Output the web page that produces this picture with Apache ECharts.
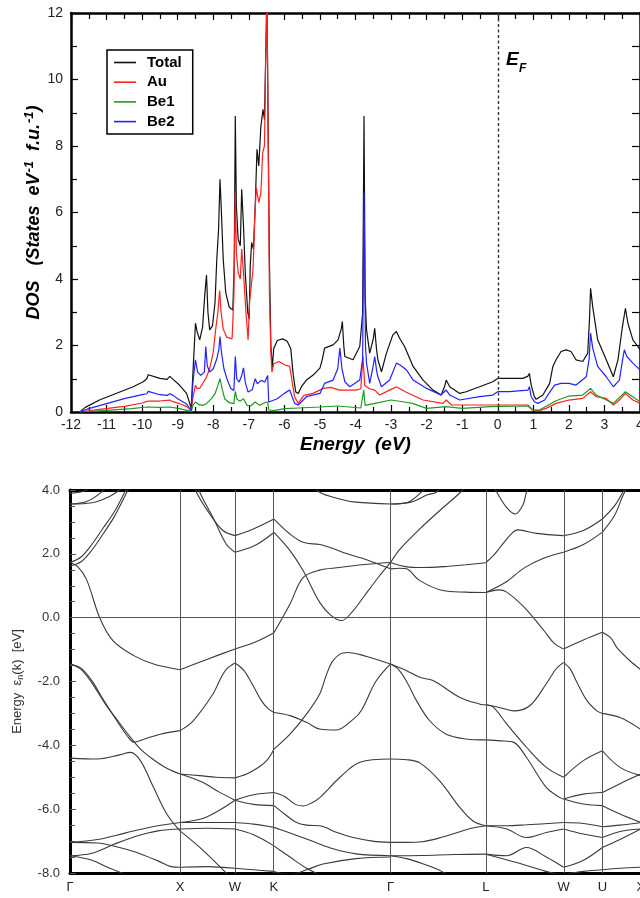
<!DOCTYPE html>
<html><head><meta charset="utf-8">
<script src="https://cdn.jsdelivr.net/npm/echarts@6/dist/echarts.min.js"></script>
<style>html,body{margin:0;padding:0;background:#fff}#c{width:640px;height:898px}</style>
</head><body><div id="c"></div>
<script>
// ---------- DOS data [energy eV, states/eV/f.u.] ----------
const dosTotal = [[-11.75,0],[-11.6,0.14],[-11.2,0.36],[-10.7,0.57],[-10.25,0.76],[-9.97,0.91],[-9.87,1.0],[-9.83,1.12],[-9.78,1.06],[-9.5,1.01],[-9.3,0.98],[-9.22,1.07],[-9.13,0.98],[-8.95,0.81],[-8.75,0.56],[-8.62,0.12],[-8.57,1.2],[-8.5,2.67],[-8.45,2.4],[-8.38,2.17],[-8.3,2.55],[-8.24,3.5],[-8.19,4.12],[-8.15,3.0],[-8.1,2.47],[-8.02,2.6],[-7.95,3.3],[-7.9,4.6],[-7.85,5.5],[-7.81,7.0],[-7.77,6.0],[-7.72,4.6],[-7.65,3.6],[-7.55,3.15],[-7.45,3.07],[-7.41,4.5],[-7.38,8.9],[-7.35,6.2],[-7.3,5.2],[-7.24,5.0],[-7.2,6.7],[-7.15,5.6],[-7.1,4.2],[-7.03,3.0],[-6.99,2.8],[-6.96,4.4],[-6.92,5.1],[-6.87,4.9],[-6.82,6.2],[-6.77,7.9],[-6.72,7.4],[-6.66,8.6],[-6.6,9.1],[-6.56,8.8],[-6.52,11.0],[-6.49,12.5],[-6.44,12.5],[-6.42,4.5],[-6.38,2.0],[-6.34,1.35],[-6.3,1.9],[-6.2,2.15],[-6.05,2.2],[-5.92,2.13],[-5.82,1.9],[-5.75,1.1],[-5.68,0.6],[-5.61,0.56],[-5.52,0.76],[-5.38,0.96],[-5.19,1.11],[-5.0,1.32],[-4.93,1.6],[-4.87,1.92],[-4.63,2.02],[-4.49,2.17],[-4.4,2.5],[-4.37,2.72],[-4.33,2.0],[-4.3,1.67],[-4.07,1.57],[-3.88,1.97],[-3.8,2.97],[-3.76,8.9],[-3.73,3.5],[-3.69,2.47],[-3.6,1.77],[-3.5,2.2],[-3.46,2.52],[-3.41,1.9],[-3.37,1.57],[-3.27,1.21],[-3.13,1.77],[-2.95,2.32],[-2.85,2.42],[-2.76,2.22],[-2.62,1.97],[-2.38,1.37],[-2.1,0.96],[-1.82,0.66],[-1.59,0.51],[-1.5,0.75],[-1.45,0.96],[-1.35,0.76],[-1.07,0.56],[-0.89,0.61],[-0.51,0.76],[-0.14,0.91],[0.0,1.01],[0.33,1.01],[0.71,1.01],[0.85,1.08],[0.89,1.16],[0.94,0.81],[1.03,0.46],[1.08,0.38],[1.27,0.51],[1.46,0.86],[1.55,1.37],[1.64,1.57],[1.78,1.82],[1.92,1.87],[2.06,1.82],[2.2,1.57],[2.39,1.52],[2.53,1.77],[2.58,2.8],[2.61,3.72],[2.67,3.17],[2.81,2.17],[3.05,1.57],[3.25,1.06],[3.38,1.57],[3.5,2.52],[3.59,3.12],[3.66,2.67],[3.8,2.17],[3.94,1.97],[4.0,1.87]];
const dosAu = [[-11.75,0],[-11.2,0.08],[-10.5,0.17],[-10.0,0.27],[-9.87,0.32],[-9.83,0.38],[-9.78,0.33],[-9.5,0.33],[-9.22,0.36],[-9.13,0.31],[-8.95,0.25],[-8.75,0.17],[-8.62,0.04],[-8.57,0.45],[-8.5,0.8],[-8.45,0.7],[-8.38,0.72],[-8.3,0.85],[-8.19,1.05],[-8.1,1.3],[-8.0,1.8],[-7.93,2.5],[-7.87,3.0],[-7.82,3.65],[-7.78,3.0],[-7.72,2.5],[-7.62,2.25],[-7.47,2.2],[-7.42,3.5],[-7.38,6.6],[-7.35,4.8],[-7.3,4.2],[-7.24,4.0],[-7.2,4.9],[-7.15,4.2],[-7.08,3.0],[-7.02,2.17],[-6.98,3.3],[-6.93,3.8],[-6.88,4.3],[-6.83,5.9],[-6.79,6.75],[-6.72,6.3],[-6.66,6.6],[-6.61,7.8],[-6.56,8.0],[-6.52,11.0],[-6.49,12.5],[-6.44,12.5],[-6.42,3.5],[-6.38,1.8],[-6.35,1.2],[-6.3,1.45],[-6.15,1.52],[-6.0,1.42],[-5.85,1.37],[-5.78,0.9],[-5.71,0.45],[-5.61,0.26],[-5.45,0.5],[-5.2,0.56],[-4.9,0.71],[-4.7,0.74],[-4.45,0.66],[-4.0,0.66],[-3.85,0.7],[-3.79,1.67],[-3.74,0.8],[-3.6,0.7],[-3.46,0.66],[-3.32,0.51],[-3.0,0.68],[-2.85,0.76],[-2.6,0.61],[-2.1,0.36],[-1.54,0.26],[-1.45,0.36],[-1.3,0.21],[-0.5,0.21],[0.0,0.21],[0.85,0.21],[0.89,0.26],[0.98,0.06],[1.17,0.04],[1.36,0.11],[1.64,0.26],[2.0,0.36],[2.39,0.41],[2.61,0.61],[2.77,0.46],[3.05,0.41],[3.25,0.21],[3.42,0.36],[3.59,0.56],[3.8,0.36],[4.0,0.26]];
const dosBe1 = [[-11.75,0],[-11.0,0.05],[-10.3,0.1],[-9.87,0.15],[-9.83,0.18],[-9.5,0.14],[-9.22,0.15],[-8.95,0.1],[-8.62,0.02],[-8.57,0.2],[-8.5,0.3],[-8.4,0.22],[-8.3,0.2],[-8.19,0.25],[-8.05,0.4],[-7.95,0.55],[-7.87,0.8],[-7.81,1.0],[-7.76,0.75],[-7.68,0.4],[-7.55,0.28],[-7.42,0.25],[-7.38,0.62],[-7.33,0.38],[-7.25,0.32],[-7.15,0.4],[-7.05,0.2],[-6.95,0.18],[-6.82,0.3],[-6.7,0.2],[-6.55,0.28],[-6.47,0.3],[-6.44,0.06],[-6.3,0.04],[-6.0,0.1],[-5.6,0.12],[-5.0,0.15],[-4.5,0.18],[-3.85,0.12],[-3.77,0.66],[-3.73,0.2],[-3.46,0.26],[-3.0,0.36],[-2.62,0.3],[-2.4,0.26],[-2.0,0.11],[-1.45,0.16],[-1.0,0.11],[-0.2,0.16],[0.85,0.18],[0.98,0.06],[1.17,0.06],[1.64,0.34],[2.0,0.48],[2.39,0.51],[2.61,0.71],[2.77,0.51],[3.25,0.26],[3.59,0.61],[4.0,0.31]];
const dosBe2 = [[-11.75,0],[-11.5,0.1],[-11.0,0.25],[-10.5,0.4],[-10.0,0.52],[-9.87,0.55],[-9.83,0.62],[-9.78,0.56],[-9.5,0.52],[-9.3,0.5],[-9.22,0.55],[-9.13,0.5],[-9.0,0.4],[-8.75,0.24],[-8.62,0.04],[-8.57,0.9],[-8.5,1.57],[-8.44,1.2],[-8.35,1.1],[-8.25,1.2],[-8.21,1.97],[-8.17,1.4],[-8.1,1.2],[-8.0,1.3],[-7.9,1.6],[-7.84,1.9],[-7.81,2.27],[-7.77,1.8],[-7.7,1.3],[-7.6,0.95],[-7.5,0.7],[-7.42,0.65],[-7.38,1.67],[-7.34,1.0],[-7.27,0.9],[-7.2,1.1],[-7.15,1.33],[-7.1,0.9],[-7.02,0.6],[-6.9,0.68],[-6.82,1.0],[-6.76,0.85],[-6.65,0.95],[-6.55,0.9],[-6.47,1.1],[-6.44,0.3],[-6.4,0.26],[-6.2,0.4],[-6.0,0.56],[-5.85,0.66],[-5.78,0.45],[-5.71,0.26],[-5.61,0.21],[-5.38,0.46],[-5.0,0.56],[-4.87,0.86],[-4.63,0.96],[-4.5,1.3],[-4.44,1.92],[-4.38,1.3],[-4.3,0.91],[-4.16,0.76],[-3.88,0.96],[-3.8,1.6],[-3.76,6.6],[-3.72,2.0],[-3.69,1.47],[-3.6,0.86],[-3.5,1.4],[-3.46,1.67],[-3.4,1.2],[-3.37,1.06],[-3.27,0.76],[-3.04,0.96],[-2.85,1.47],[-2.76,1.42],[-2.57,1.27],[-2.38,0.96],[-2.0,0.71],[-1.6,0.51],[-1.45,0.66],[-1.35,0.51],[-1.07,0.36],[-0.51,0.46],[-0.14,0.51],[0.0,0.61],[0.33,0.61],[0.85,0.66],[0.89,0.76],[0.94,0.46],[1.03,0.31],[1.13,0.26],[1.32,0.36],[1.5,0.66],[1.6,0.81],[1.64,0.76],[1.78,0.86],[2.0,0.86],[2.2,0.81],[2.49,1.06],[2.57,1.6],[2.61,2.37],[2.67,1.92],[2.81,1.37],[3.05,1.06],[3.25,0.76],[3.42,0.96],[3.5,1.5],[3.56,1.87],[3.63,1.67],[3.8,1.47],[4.0,1.27]];
const dosNames = ['Total','Au','Be1','Be2'];
const dosColors = ['#111111','#ff2020','#1f9a1f','#2222ff'];
const fermiLevel = 0;

// ---------- band structure [k (2pi/a), energy eV] ----------
const kPoints = [0, 1, 1.5, 1.854, 2.914, 3.78, 4.487, 4.84, 5.19];
const kLabels = ['Γ','X','W','K','Γ','L','W','U','X'];

const bandsGX = [
 [[0,3.56],[0.2,3.6],[0.35,3.78],[0.45,4.0],[0.55,4.3]],
 [[0,3.56],[0.15,3.64],[0.28,3.92],[0.38,4.3]],
 [[0,3.9],[0.12,3.96],[0.25,4.2]],
 [[0,1.73],[0.1,1.9],[0.2,2.3],[0.3,2.8],[0.4,3.3],[0.5,3.95],[0.58,4.5]],
 [[0,1.62],[0.1,1.75],[0.2,2.12],[0.3,2.62],[0.4,3.15],[0.52,3.95],[0.6,4.5]],
 [[0,1.73],[0.07,1.6],[0.15,1.2],[0.27,0.0],[0.39,-0.72],[0.58,-1.19],[0.76,-1.45],[1.0,-1.63]],
 [[0,-1.45],[0.1,-1.62],[0.2,-2.05],[0.32,-2.7],[0.45,-3.3],[0.55,-3.75],[0.65,-4.15],[0.76,-4.45],[0.88,-4.72],[1.0,-4.9]],
 [[0,-1.45],[0.1,-1.58],[0.2,-1.98],[0.3,-2.55],[0.42,-3.2],[0.52,-3.7],[0.58,-3.9],[0.68,-3.8],[0.82,-3.65],[1.0,-3.54]],
 [[0,-4.4],[0.25,-4.43],[0.45,-4.3],[0.55,-4.22],[0.64,-4.48],[0.76,-5.32],[0.88,-6.15],[1.0,-6.68]],
 [[0,-7.04],[0.25,-6.95],[0.5,-6.75],[0.75,-6.55],[1.0,-6.42]],
 [[0,-7.46],[0.2,-7.38],[0.4,-7.1],[0.6,-6.85],[0.8,-6.68],[1.0,-6.62]],
 [[0,-7.04],[0.25,-7.06],[0.45,-7.2],[0.6,-7.35],[0.8,-7.62],[0.92,-7.8],[1.0,-7.82]],
 [[0,-7.46],[0.2,-7.6],[0.34,-7.82],[0.55,-8.1]]
];
const bandsXW = [
 [[1.1,4.5],[1.15,3.93],[1.27,3.25],[1.39,2.73],[1.5,2.57]],
 [[1.13,4.5],[1.18,3.93],[1.3,3.14],[1.42,2.31],[1.5,2.05]],
 [[1.0,-1.63],[1.25,-1.3],[1.5,-0.98]],
 [[1.0,-3.54],[1.12,-3.23],[1.3,-2.39],[1.36,-1.97],[1.42,-1.62],[1.5,-1.42]],
 [[1.0,-4.9],[1.18,-4.95],[1.33,-5.0],[1.5,-5.02]],
 [[1.0,-4.9],[1.2,-5.15],[1.35,-5.45],[1.5,-5.72]],
 [[1.0,-6.42],[1.2,-6.3],[1.35,-6.05],[1.5,-5.72]],
 [[1.0,-6.42],[1.25,-6.42],[1.5,-6.42]],
 [[1.0,-6.62],[1.25,-6.6],[1.5,-6.62]],
 [[1.0,-6.68],[1.18,-7.2],[1.42,-8.0],[1.5,-8.3]],
 [[1.0,-7.82],[1.25,-7.8],[1.5,-7.85]]
];
const bandsWK = [
 [[1.5,2.57],[1.667,2.78],[1.854,3.09]],
 [[1.5,2.05],[1.68,2.26],[1.854,2.67]],
 [[1.5,-0.98],[1.68,-0.77],[1.854,-0.47]],
 [[1.5,-1.42],[1.58,-1.65],[1.66,-2.1],[1.74,-2.6],[1.8,-2.85],[1.854,-2.97]],
 [[1.5,-5.02],[1.606,-4.9],[1.7,-4.72],[1.788,-4.48],[1.854,-4.12]],
 [[1.5,-5.72],[1.67,-5.85],[1.854,-5.89]],
 [[1.5,-5.72],[1.67,-5.55],[1.854,-5.48]],
 [[1.5,-6.42],[1.67,-6.47],[1.854,-6.57]],
 [[1.5,-6.62],[1.67,-6.8],[1.854,-7.15]],
 [[1.5,-7.85],[1.67,-7.9],[1.854,-7.95]]
];
const bandsKG = [
 [[2.2,4.2],[2.27,3.93],[2.45,3.72],[2.6,3.62],[2.914,3.56]],
 [[1.854,3.09],[2.0,2.62],[2.12,2.36],[2.27,2.29],[2.38,2.18],[2.52,2.0],[2.65,1.87],[2.8,1.68],[2.914,1.53]],
 [[1.854,2.67],[2.0,2.1],[2.12,1.47],[2.27,0.48],[2.37,0.08],[2.47,-0.09],[2.57,0.2],[2.667,0.64],[2.8,1.25],[2.914,1.73]],
 [[1.854,-0.47],[2.0,0.43],[2.12,1.26],[2.27,1.49],[2.45,1.57],[2.65,1.66],[2.914,1.73]],
 [[1.854,-4.12],[2.0,-3.65],[2.15,-3.02],[2.27,-2.39],[2.33,-1.8],[2.38,-1.4],[2.45,-1.15],[2.52,-1.09],[2.63,-1.15],[2.73,-1.25],[2.914,-1.45]],
 [[1.854,-2.97],[2.0,-3.07],[2.15,-3.28],[2.27,-3.49],[2.42,-3.52],[2.576,-3.18],[2.65,-2.9],[2.78,-2.0],[2.914,-1.45]],
 [[1.854,-5.48],[1.95,-5.6],[2.05,-5.85],[2.12,-5.9],[2.2,-5.8],[2.273,-5.63],[2.455,-5.0],[2.636,-4.53],[2.914,-4.43]],
 [[1.854,-5.89],[1.95,-6.15],[2.05,-6.4],[2.15,-6.5],[2.273,-6.52],[2.42,-6.72],[2.576,-6.89],[2.75,-7.0],[2.914,-7.04]],
 [[1.854,-6.57],[2.0,-6.75],[2.2,-7.0],[2.4,-7.25],[2.6,-7.4],[2.914,-7.46]],
 [[1.854,-7.15],[2.0,-7.5],[2.15,-7.85],[2.3,-8.1]],
 [[1.854,-7.95],[2.0,-8.05],[2.15,-7.9],[2.3,-7.72],[2.6,-7.55],[2.914,-7.5]]
];
const bandsGL = [
 [[2.914,3.56],[3.1,3.62],[3.25,3.85],[3.33,3.93],[3.42,4.3]],
 [[2.914,3.56],[3.06,3.6],[3.2,3.95],[3.3,4.3]],
 [[2.914,1.73],[3.0,2.15],[3.18,2.78],[3.36,3.35],[3.55,3.93],[3.65,4.3]],
 [[2.914,1.73],[3.05,1.6],[3.2,1.57],[3.4,1.6],[3.6,1.66],[3.78,1.72]],
 [[2.914,1.53],[3.0,1.55],[3.06,1.53],[3.18,1.16],[3.39,0.85],[3.6,0.8],[3.78,0.79]],
 [[2.914,-1.45],[3.06,-1.66],[3.18,-1.87],[3.3,-1.97],[3.545,-2.5],[3.727,-2.71],[3.78,-2.73]],
 [[2.914,-1.45],[2.98,-1.6],[3.055,-1.97],[3.15,-2.6],[3.27,-3.23],[3.42,-3.65],[3.6,-3.8],[3.78,-3.83]],
 [[2.914,-4.43],[3.06,-4.45],[3.18,-4.55],[3.36,-5.11],[3.545,-5.95],[3.667,-6.38],[3.78,-6.52]],
 [[2.914,-7.04],[3.06,-7.04],[3.2,-7.02],[3.33,-6.93],[3.48,-6.78],[3.65,-6.6],[3.78,-6.52]],
 [[2.914,-7.46],[3.2,-7.45],[3.5,-7.42],[3.78,-7.41]],
 [[2.914,-7.46],[3.06,-7.55],[3.2,-7.7],[3.35,-7.9],[3.45,-8.1]]
];
const bandsLW = [
 [[3.8,4.4],[3.88,3.93],[3.97,3.45],[4.05,3.25],[4.12,3.55],[4.15,3.93],[4.22,4.4]],
 [[3.78,1.72],[3.85,1.95],[3.91,2.2],[4.01,2.62],[4.07,2.75],[4.24,2.64],[4.487,2.57]],
 [[3.78,0.79],[3.96,1.11],[4.13,1.56],[4.31,1.87],[4.487,2.05]],
 [[3.78,0.79],[3.9,0.87],[3.97,0.8],[4.13,0.32],[4.31,-0.41],[4.4,-0.8],[4.487,-0.98]],
 [[3.78,-2.73],[3.91,-2.82],[4.03,-2.92],[4.18,-2.76],[4.33,-2.07],[4.42,-1.6],[4.487,-1.4]],
 [[3.78,-2.73],[3.85,-2.81],[3.97,-3.33],[4.15,-4.06],[4.33,-4.69],[4.487,-5.0]],
 [[3.78,-3.83],[3.91,-3.86],[4.03,-3.9],[4.15,-4.38],[4.33,-5.32],[4.45,-5.63],[4.487,-5.68]],
 [[3.78,-6.52],[3.97,-6.52],[4.15,-6.49],[4.487,-6.42]],
 [[3.78,-6.52],[3.97,-6.62],[4.15,-6.89],[4.33,-6.73],[4.487,-6.62]],
 [[3.78,-7.41],[3.97,-7.46],[4.15,-7.2],[4.33,-7.5],[4.487,-7.82]],
 [[3.78,-7.41],[4.06,-7.67],[4.36,-7.98],[4.487,-8.05]]
];
const bandsWU = [
 [[4.487,2.57],[4.667,2.73],[4.84,3.09]],
 [[4.487,2.05],[4.667,2.29],[4.84,2.68]],
 [[4.487,-0.98],[4.667,-0.7],[4.84,-0.46]],
 [[4.487,-1.4],[4.55,-1.62],[4.6,-1.97],[4.7,-2.6],[4.79,-2.92],[4.84,-3.0]],
 [[4.487,-5.0],[4.667,-4.48],[4.84,-4.17]],
 [[4.487,-5.68],[4.667,-5.53],[4.84,-5.48]],
 [[4.487,-5.68],[4.667,-5.84],[4.84,-5.89]],
 [[4.487,-6.42],[4.667,-6.45],[4.84,-6.55]],
 [[4.487,-6.62],[4.667,-6.78],[4.84,-6.89]],
 [[4.487,-7.82],[4.667,-7.6],[4.84,-7.2]],
 [[4.487,-8.05],[4.667,-7.95],[4.84,-7.9]]
];
const bandsUX = [
 [[4.84,3.09],[4.95,3.5],[5.02,3.9],[5.1,4.4]],
 [[4.84,2.68],[4.95,3.2],[5.02,3.77],[5.12,4.5]],
 [[4.84,-0.46],[4.92,-0.65],[4.97,-0.93],[5.09,-1.35],[5.19,-1.63]],
 [[4.84,-3.0],[5.0,-3.13],[5.19,-3.5]],
 [[4.84,-4.17],[5.0,-4.69],[5.19,-4.95]],
 [[4.84,-5.48],[5.0,-5.2],[5.19,-4.9]],
 [[4.84,-5.89],[5.0,-6.15],[5.19,-6.42]],
 [[4.84,-6.55],[5.0,-6.5],[5.19,-6.42]],
 [[4.84,-6.89],[5.0,-6.7],[5.19,-6.62]],
 [[4.84,-7.2],[5.0,-6.95],[5.19,-6.62]],
 [[4.84,-7.9],[5.0,-7.85],[5.19,-7.82]]
];

// ---------- chart ----------
const FONT = '"Liberation Sans", Arial, sans-serif';
const chart = echarts.init(document.getElementById('c'), null, {renderer: 'canvas'});
const dosSets = [dosTotal, dosAu, dosBe1, dosBe2];
const series = [];
dosSets.forEach((d, i) => {
  const s = {
    name: dosNames[i], type: 'line', xAxisIndex: 0, yAxisIndex: 0,
    data: d, symbol: 'none', showSymbol: false, smooth: false, clip: true,
    lineStyle: {color: dosColors[i], width: 1.2}, itemStyle: {color: dosColors[i]},
    z: 2 + i, silent: true
  };
  if (i === 0) {
    s.markLine = {
      silent: true, symbol: ['none','none'], label: {show: false},
      lineStyle: {color: '#333', width: 1.4, type: [3, 2.5]},
      data: [{xAxis: fermiLevel}]
    };
  }
  series.push(s);
});
const allBands = [].concat(bandsGX, bandsXW, bandsWK, bandsKG, bandsGL, bandsLW, bandsWU, bandsUX);
allBands.forEach((b, i) => {
  const s = {
    type: 'line', xAxisIndex: 2, yAxisIndex: 2, data: b, symbol: 'none',
    showSymbol: false, smooth: 0.35, clip: true, silent: true,
    lineStyle: {color: '#3a3a3a', width: 1.1}, z: 3
  };
  if (i === 0) {
    s.markLine = {
      silent: true, symbol: ['none','none'], label: {show: false},
      lineStyle: {color: '#555', width: 1, type: 'solid'},
      data: kPoints.slice(1).map(k => ({xAxis: k})).concat([{yAxis: 0}])
    };
  }
  series.push(s);
});

const noZero = {onZero: false};
const option = {
  animation: false,
  backgroundColor: '#fff',
  textStyle: {fontFamily: FONT},
  grid: [
    {left: 71, top: 13, width: 569, height: 399, containLabel: false, outerBoundsMode: 'none'},
    {left: 70, top: 490, width: 572, height: 383, containLabel: false, outerBoundsMode: 'none'}
  ],
  legend: {
    data: dosNames, orient: 'vertical', left: 107, top: 50,
    borderColor: '#000', borderWidth: 1.5, padding: [5, 11, 5, 7],
    icon: 'rect', itemWidth: 22, itemHeight: 1.6, itemGap: 4.7,
    textStyle: {fontFamily: FONT, fontWeight: 'bold', fontSize: 15, lineHeight: 15, color: '#000', padding: [0,0,0,6]},
    selectedMode: false
  },
  xAxis: [
    {gridIndex: 0, type: 'value', min: -12, max: 4, interval: 1, position: 'bottom',
     axisLine: Object.assign({lineStyle: {color: '#000', width: 2.5}}, noZero),
     axisTick: {inside: true, length: 7, lineStyle: {color: '#000', width: 1.2}},
     minorTick: {show: true, splitNumber: 2, length: 5, lineStyle: {color: '#000', width: 1.2}},
     axisLabel: {fontSize: 14, color: '#222', margin: 6, fontFamily: FONT},
     splitLine: {show: false},
     name: 'Energy  (eV)', nameLocation: 'middle', nameGap: 23, nameMoveOverlap: false,
     nameTextStyle: {fontFamily: FONT, fontSize: 19, fontWeight: 'bold', fontStyle: 'italic', color: '#000'}},
    {gridIndex: 0, type: 'value', min: -12, max: 4, interval: 1, position: 'top',
     axisLine: Object.assign({lineStyle: {color: '#000', width: 2.5}}, noZero),
     axisTick: {inside: true, length: 7, lineStyle: {color: '#000', width: 1.2}},
     minorTick: {show: true, splitNumber: 2, length: 6, lineStyle: {color: '#000', width: 1.2}},
     axisLabel: {show: false}, splitLine: {show: false}},
    {gridIndex: 1, type: 'value', min: 0, max: 5.2, position: 'bottom',
     axisLine: Object.assign({lineStyle: {color: '#000', width: 3}}, noZero),
     axisTick: {show: false},
     axisLabel: {customValues: kPoints, fontSize: 13, color: '#222', margin: 8, fontFamily: FONT,
       formatter: v => { const i = kPoints.findIndex(k => Math.abs(k - v) < 1e-6); return i >= 0 ? kLabels[i] : ''; }},
     splitLine: {show: false}},
    {gridIndex: 1, type: 'value', min: 0, max: 5.2, position: 'top',
     axisLine: Object.assign({lineStyle: {color: '#000', width: 3}}, noZero),
     axisTick: {show: false}, axisLabel: {show: false}, splitLine: {show: false}}
  ],
  yAxis: [
    {gridIndex: 0, type: 'value', min: 0, max: 12, interval: 2, position: 'left',
     axisLine: Object.assign({show: true, lineStyle: {color: '#000', width: 2.5}}, noZero),
     axisTick: {inside: true, length: 7, lineStyle: {color: '#000', width: 1.2}},
     minorTick: {show: true, splitNumber: 2, length: 6, lineStyle: {color: '#000', width: 1.2}},
     axisLabel: {fontSize: 14, color: '#222', margin: 8, fontFamily: FONT},
     splitLine: {show: false},
     name: 'DOS   (States  eV{sup|-1}  f.u.{sup|-1})', nameLocation: 'middle', nameGap: 26, nameMoveOverlap: false,
     nameTextStyle: {fontFamily: FONT, fontSize: 18, fontWeight: 'bold', fontStyle: 'italic', color: '#000',
       rich: {sup: {fontFamily: FONT, fontSize: 13, fontWeight: 'bold', fontStyle: 'italic', color: '#000', padding: [0, 0, 9, 1]}}}},
    {gridIndex: 0, type: 'value', min: 0, max: 12, interval: 1, position: 'right',
     axisLine: Object.assign({show: true, lineStyle: {color: '#000', width: 2.5}}, noZero),
     axisTick: {inside: true, length: 8, lineStyle: {color: '#000', width: 1.2}},
     axisLabel: {show: false}, splitLine: {show: false}},
    {gridIndex: 1, type: 'value', min: -8, max: 4, interval: 2, position: 'left',
     axisLine: Object.assign({show: true, lineStyle: {color: '#000', width: 3}}, noZero),
     axisTick: {inside: true, length: 6, lineStyle: {color: '#555', width: 1}},
     minorTick: {show: true, splitNumber: 4, length: 5, lineStyle: {color: '#555', width: 1}},
     axisLabel: {fontSize: 13, color: '#333', margin: 10, fontFamily: FONT, formatter: v => v.toFixed(1)},
     splitLine: {show: false},
     name: 'Energy  ε{sub|n}(k)  [eV]', nameLocation: 'middle', nameGap: 45, nameMoveOverlap: false,
     nameTextStyle: {fontFamily: FONT, fontSize: 13, color: '#333',
       rich: {sub: {fontFamily: FONT, fontSize: 9, color: '#333', padding: [6, 0, 0, 0]}}}}
  ],
  graphic: [
    {type: 'text', left: 506, top: 50, style: {text: 'E', fontFamily: FONT, fontSize: 19, fontWeight: 'bold', fontStyle: 'italic', fill: '#000'}},
    {type: 'text', left: 519, top: 63, style: {text: 'F', fontFamily: FONT, fontSize: 12, fontWeight: 'bold', fontStyle: 'italic', fill: '#000'}}
  ],
  series: series
};
chart.setOption(option);
</script>
</body></html>
